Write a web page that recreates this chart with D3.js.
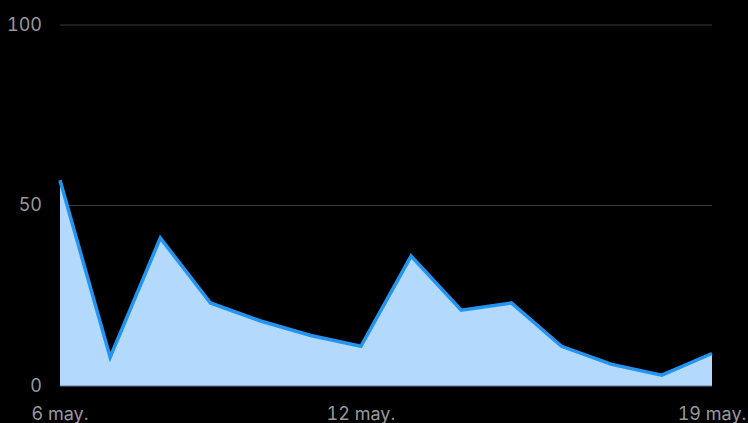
<!DOCTYPE html>
<html>
<head>
<meta charset="utf-8">
<script src="https://cdn.jsdelivr.net/npm/d3@7"></script>
<style>
  html, body { margin: 0; padding: 0; background: #000; }
  svg { display: block; }
  text { font-family: Inter, "Noto Sans", sans-serif; font-variant-numeric: tabular-nums; }
</style>
</head>
<body>
<svg id="chart" width="748" height="423"></svg>
<script>
// Daily values, 6–19 May
const days = ["2024-05-06","2024-05-07","2024-05-08","2024-05-09","2024-05-10","2024-05-11","2024-05-12",
              "2024-05-13","2024-05-14","2024-05-15","2024-05-16","2024-05-17","2024-05-18","2024-05-19"];
const values = [57, 8, 41, 23, 18, 14, 11, 36, 21, 23, 11, 6, 3, 9];
const yTicks = [0, 50, 100];
const xTickDays = ["2024-05-06", "2024-05-12", "2024-05-19"];
const xTickLabels = ["6 may.", "12 may.", "19 may."];

(function () {
  const parse = d3.timeParse("%Y-%m-%d");
  const data = days.map((d, i) => ({ date: parse(d), value: values[i] }));

  const svg = d3.select("#chart");
  const plot = { left: 60, right: 712, top: 25, bottom: 386 };

  const x = d3.scaleTime()
    .domain(d3.extent(data, d => d.date))
    .range([plot.left, plot.right]);
  const y = d3.scaleLinear().domain([0, 100]).range([plot.bottom, plot.top]);

  // Horizontal grid
  svg.append("g")
    .selectAll("line")
    .data(yTicks.filter(t => t > 0))
    .join("line")
    .attr("x1", plot.left).attr("x2", plot.right)
    .attr("y1", d => y(d)).attr("y2", d => y(d))
    .attr("stroke", "#3a3a3c").attr("stroke-width", 1);

  // Y labels
  svg.append("g")
    .selectAll("text")
    .data(yTicks)
    .join("text")
    .attr("x", 42).attr("y", d => y(d) - 1)
    .attr("text-anchor", "end")
    .attr("dominant-baseline", "central")
    .attr("fill", "#98989d")
    .attr("font-size", 18)
    .text(d => d);

  // Area + line
  const area = d3.area()
    .x(d => x(d.date)).y0(y(0)).y1(d => y(d.value));
  const line = d3.line()
    .x(d => x(d.date)).y(d => y(d.value));

  svg.append("path").datum(data)
    .attr("d", area)
    .attr("fill", "#b3dafd");

  // Baseline
  svg.append("line")
    .attr("x1", plot.left).attr("x2", plot.right)
    .attr("y1", y(0)).attr("y2", y(0))
    .attr("stroke", "#5a7a96").attr("stroke-width", 1);

  svg.append("path").datum(data)
    .attr("d", line)
    .attr("fill", "none")
    .attr("stroke", "#2394f0")
    .attr("stroke-width", 3.5)
    .attr("stroke-linejoin", "miter");

  // X labels
  svg.append("g")
    .selectAll("text")
    .data(xTickDays)
    .join("text")
    .attr("x", d => x(parse(d)))
    .attr("y", 420)
    .attr("text-anchor", "middle")
    .attr("fill", "#98989d")
    .attr("font-size", 18)
    .text((d, i) => xTickLabels[i]);
})();
</script>
</body>
</html>
